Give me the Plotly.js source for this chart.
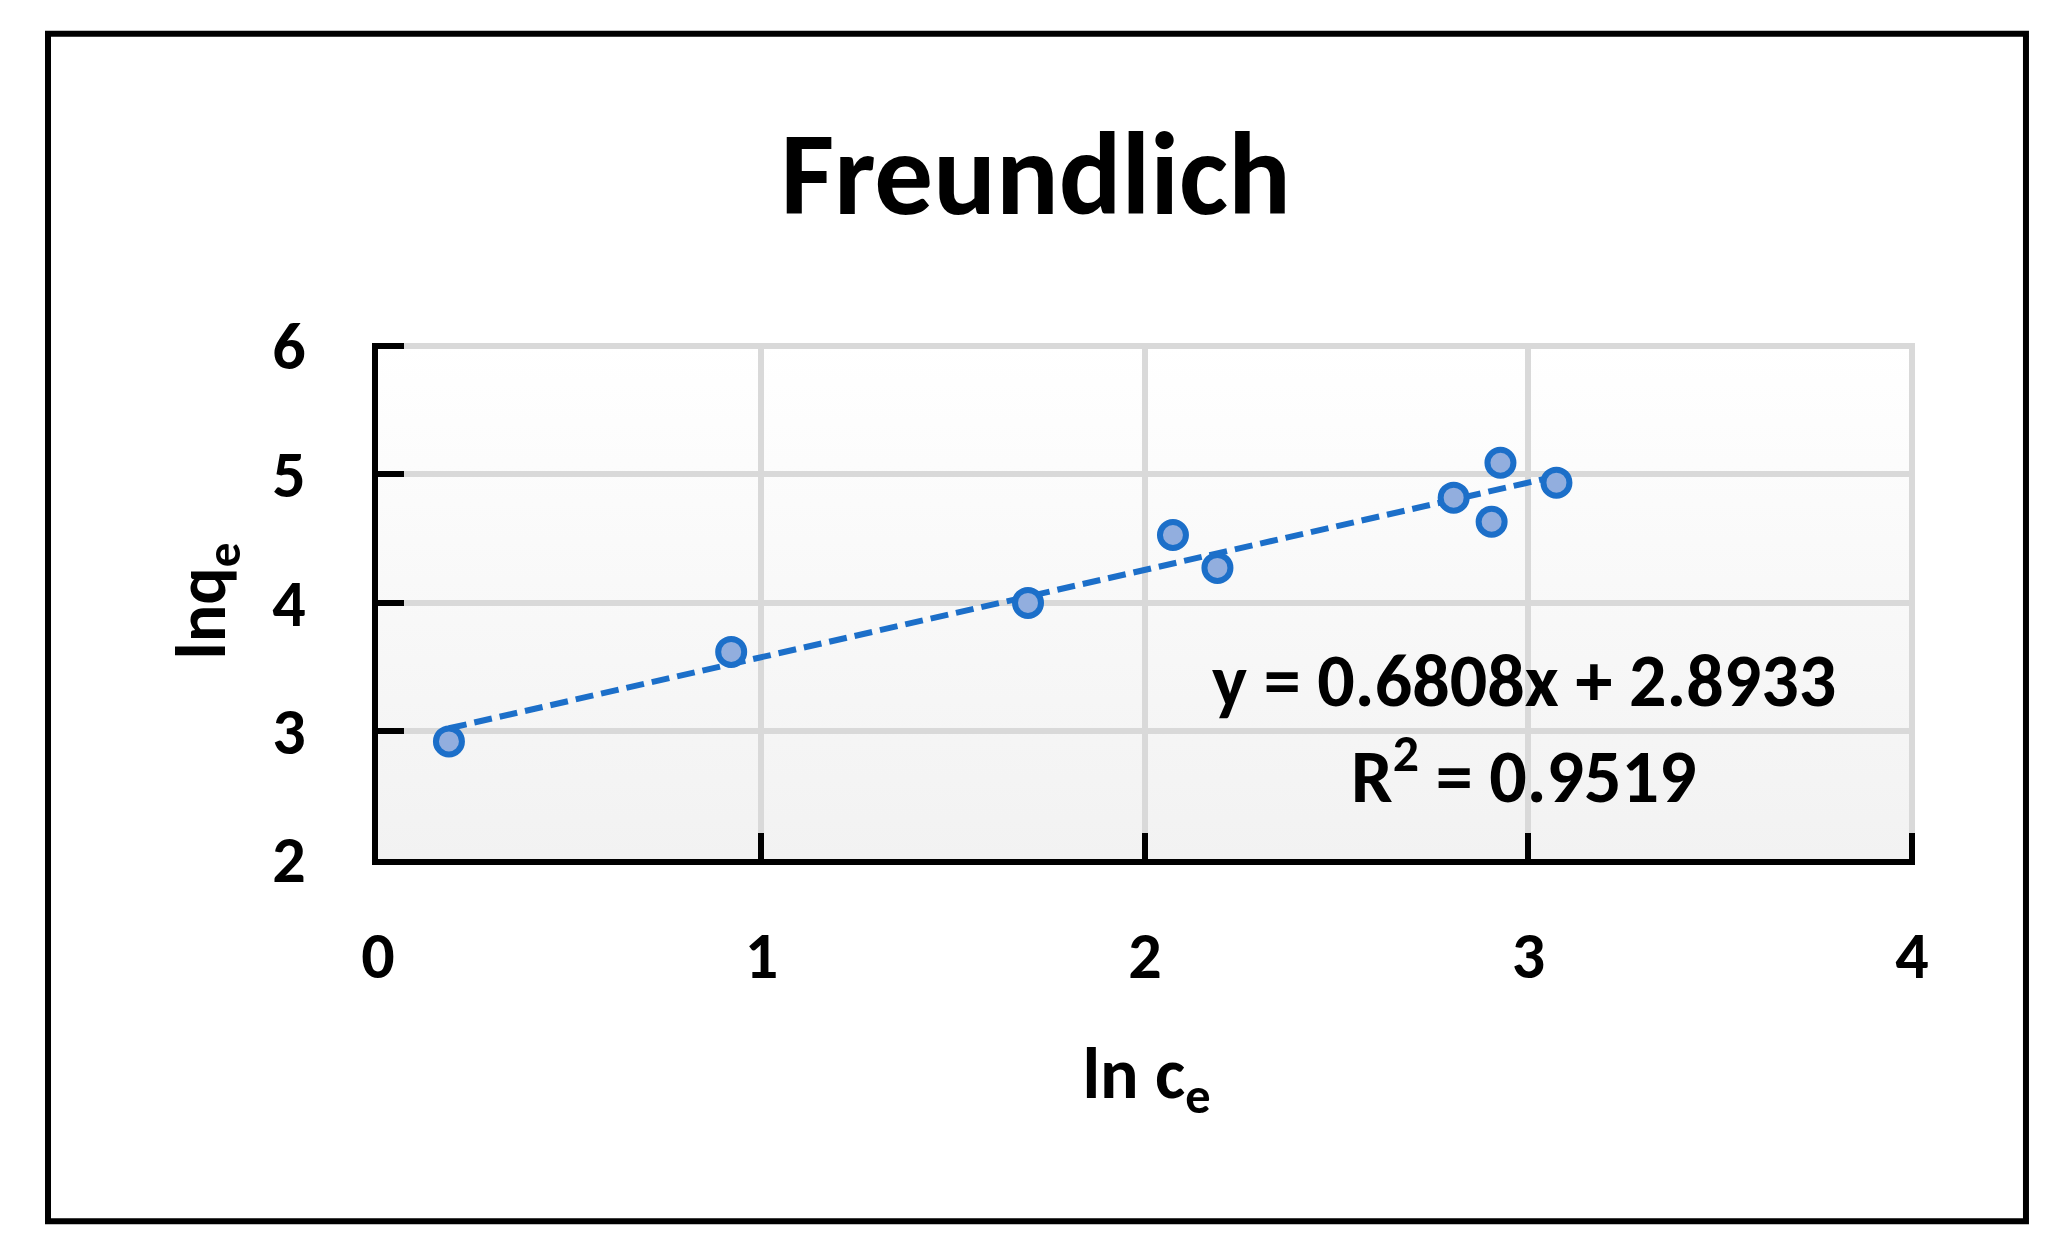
<!DOCTYPE html>
<html>
<head>
<meta charset="utf-8">
<script src="https://cdn.plot.ly/plotly-3.0.1.min.js"></script>
<style>html,body{margin:0;padding:0;background:#fff;}#chart{width:2063px;height:1255px;}</style>
</head>
<body>
<div id="chart"></div>
<script>
// ---- data ----
const lnCe = [0.185, 0.921, 1.695, 2.073, 2.189, 2.805, 2.904, 2.927, 3.073];
const lnQe = [2.917, 3.615, 3.997, 4.527, 4.270, 4.818, 4.630, 5.090, 4.935];
const slope = 0.6808;
const intercept = 2.8933;
const r2 = 0.9519;
const xTicks = [0, 1, 2, 3, 4];
const yTicks = [2, 3, 4, 5, 6];
const titleText = 'Freundlich';
const xTitle = 'ln c<sub>e</sub>';
const yTitle = 'lnq<sub>e</sub>';

const FONT = 'Carlito, Lato, "Open Sans", sans-serif';
const blue = '#1C6FC9';

const xMin = Math.min(...lnCe), xMax = Math.max(...lnCe);
const trendX = [xMin, xMax];
const trendY = trendX.map(v => slope * v + intercept);

const grad = "<svg xmlns='http://www.w3.org/2000/svg' width='100' height='100' preserveAspectRatio='none'>" +
  "<defs><linearGradient id='g' x1='0' y1='0' x2='0' y2='1'><stop offset='0' stop-color='#ffffff'/>" +
  "<stop offset='1' stop-color='#f2f2f2'/></linearGradient></defs><rect width='100' height='100' fill='url(#g)'/></svg>";
const gradSrc = 'data:image/svg+xml;charset=utf-8,' + encodeURIComponent(grad);

const traces = [
  {
    x: trendX, y: trendY, type: 'scatter', mode: 'lines',
    line: {color: blue, width: 6, dash: '18px,8px'},
    hoverinfo: 'skip', showlegend: false
  },
  {
    x: lnCe, y: lnQe, type: 'scatter', mode: 'markers',
    marker: {size: 26, color: '#92AEDE', line: {color: blue, width: 6}},
    showlegend: false
  }
];

const layout = {
  width: 2063, height: 1255,
  margin: {l: 378, r: 148, t: 343, b: 396, pad: 0},
  paper_bgcolor: '#ffffff',
  plot_bgcolor: 'rgba(0,0,0,0)',
  font: {family: FONT, color: '#000', weight: 'bold'},
  title: {
    text: titleText,
    font: {family: FONT, size: 117, color: '#000', weight: 'bold'},
    x: 0.502, xanchor: 'center', xref: 'container',
    y: 0.862, yanchor: 'middle', yref: 'container'
  },
  xaxis: {
    range: [0, 4.008], tickvals: xTicks, ticktext: xTicks.map(String),
    showgrid: true, gridcolor: '#D9D9D9', gridwidth: 6,
    showline: true, linecolor: '#000', linewidth: 6,
    ticks: 'inside', ticklen: 26, tickwidth: 6, tickcolor: '#000',
    ticklabelstandoff: 34,
    tickfont: {family: FONT, size: 66, color: '#000', weight: 'bold'},
    zeroline: false, fixedrange: true,
    title: {text: xTitle, font: {family: FONT, size: 72, color: '#000', weight: 'bold'}, standoff: 54}
  },
  yaxis: {
    range: [2, 6.024], tickvals: yTicks, ticktext: yTicks.map(String),
    showgrid: true, gridcolor: '#D9D9D9', gridwidth: 6,
    showline: true, linecolor: '#000', linewidth: 6,
    ticks: 'inside', ticklen: 26, tickwidth: 6, tickcolor: '#000',
    ticklabelstandoff: 53,
    tickfont: {family: FONT, size: 66, color: '#000', weight: 'bold'},
    zeroline: false, fixedrange: true,
    title: {text: yTitle, font: {family: FONT, size: 70, color: '#000', weight: 'bold'}, standoff: 26}
  },
  images: [{
    source: gradSrc, xref: 'x domain', yref: 'y domain',
    x: 0, y: 1, sizex: 1, sizey: 1, xanchor: 'left', yanchor: 'top',
    sizing: 'stretch', layer: 'below'
  }],
  annotations: [
    {
      text: 'y = ' + slope.toFixed(4) + 'x + ' + intercept.toFixed(4),
      xref: 'paper', yref: 'paper', x: 0.7456, y: 0.345,
      xanchor: 'center', yanchor: 'middle', showarrow: false,
      font: {family: FONT, size: 74, color: '#000', weight: 'bold'}
    },
    {
      text: 'R<sup>2</sup> = ' + r2.toFixed(4),
      xref: 'paper', yref: 'paper', x: 0.7456, y: 0.168,
      xanchor: 'center', yanchor: 'middle', showarrow: false,
      font: {family: FONT, size: 74, color: '#000', weight: 'bold'}
    }
  ],
  shapes: [{
    type: 'rect', xref: 'paper', yref: 'paper',
    x0: -0.2147, x1: 1.0722, y0: -0.7018, y1: 1.5994,
    line: {color: '#000', width: 6}, fillcolor: 'rgba(0,0,0,0)', layer: 'above'
  }]
};

Plotly.newPlot('chart', traces, layout, {displayModeBar: false, staticPlot: true});
</script>
</body>
</html>
